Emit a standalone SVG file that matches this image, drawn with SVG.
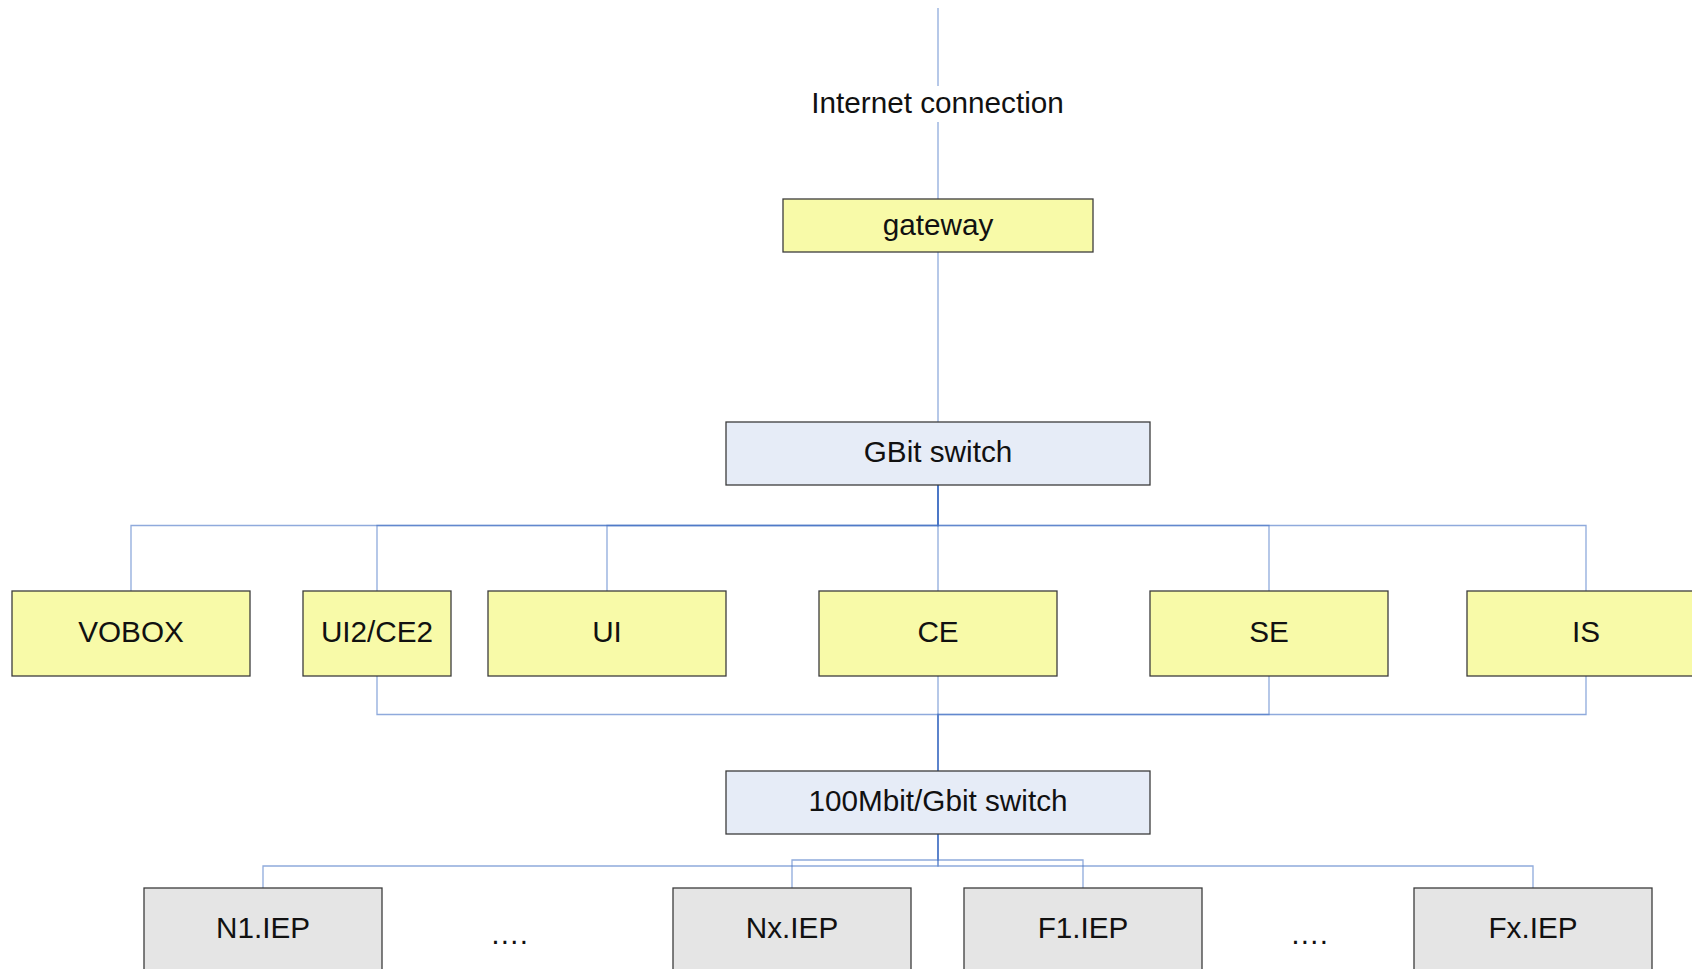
<svg xmlns="http://www.w3.org/2000/svg" width="1692" height="969" viewBox="0 0 1692 969">
<style>
.n rect{stroke:#3c3c3c;stroke-width:1.3}
.y rect{fill:#f8faa8}
.b rect{fill:#e6ecf7}
.g rect{fill:#e5e5e5}
text{font-family:"Liberation Sans",Arial,sans-serif;font-size:29.7px;fill:#111;text-anchor:middle}
.c path{fill:none;stroke:#4472c4;stroke-opacity:0.6;stroke-width:1.3}
</style>
<rect width="1692" height="969" fill="#fff"/>
<g class="c" id="connectors">
<path d="M938,8V86"/>
<path d="M938,122V199"/>
<path d="M938,252V422"/>
<path d="M938,485V525.5H131V591"/>
<path d="M938,485V525.5H377V591"/>
<path d="M938,485V525.5H607V591"/>
<path d="M938,485V591"/>
<path d="M938,485V525.5H1269V591"/>
<path d="M938,485V525.5H1586V591"/>
<path d="M377,676V714.5H938V771"/>
<path d="M938,676V771"/>
<path d="M1269,676V714.5H938V771"/>
<path d="M1586,676V714.5H938V771"/>
<path d="M938,834V866H263V888"/>
<path d="M938,834V866H1533V888"/>
<path d="M938,834V860H792V888"/>
<path d="M938,834V860H1083V888"/>
</g>
<text x="937.5" y="113">Internet connection</text>
<g id="gateway" class="n y"><rect x="783" y="199" width="310" height="53"/><text x="938" y="234.5">gateway</text></g>
<g id="gbit" class="n b"><rect x="726" y="422" width="424" height="63"/><text x="938" y="461.5">GBit switch</text></g>
<g id="vobox" class="n y"><rect x="12" y="591" width="238" height="85"/><text x="131" y="641.5">VOBOX</text></g>
<g id="ui2ce2" class="n y"><rect x="303" y="591" width="148" height="85"/><text x="377" y="641.5">UI2/CE2</text></g>
<g id="ui" class="n y"><rect x="488" y="591" width="238" height="85"/><text x="607" y="641.5">UI</text></g>
<g id="ce" class="n y"><rect x="819" y="591" width="238" height="85"/><text x="938" y="641.5">CE</text></g>
<g id="se" class="n y"><rect x="1150" y="591" width="238" height="85"/><text x="1269" y="641.5">SE</text></g>
<g id="is" class="n y"><rect x="1467" y="591" width="238" height="85"/><text x="1586" y="641.5">IS</text></g>
<g id="mbit" class="n b"><rect x="726" y="771" width="424" height="63"/><text x="938" y="810.5">100Mbit/Gbit switch</text></g>
<g id="n1" class="n g"><rect x="144" y="888" width="238" height="85"/><text x="263" y="938">N1.IEP</text></g>
<g id="nx" class="n g"><rect x="673" y="888" width="238" height="85"/><text x="792" y="938">Nx.IEP</text></g>
<g id="f1" class="n g"><rect x="964" y="888" width="238" height="85"/><text x="1083" y="938">F1.IEP</text></g>
<g id="fx" class="n g"><rect x="1414" y="888" width="238" height="85"/><text x="1533" y="938">Fx.IEP</text></g>
<text x="509" y="944">….</text>
<text x="1309" y="944">….</text>
</svg>
